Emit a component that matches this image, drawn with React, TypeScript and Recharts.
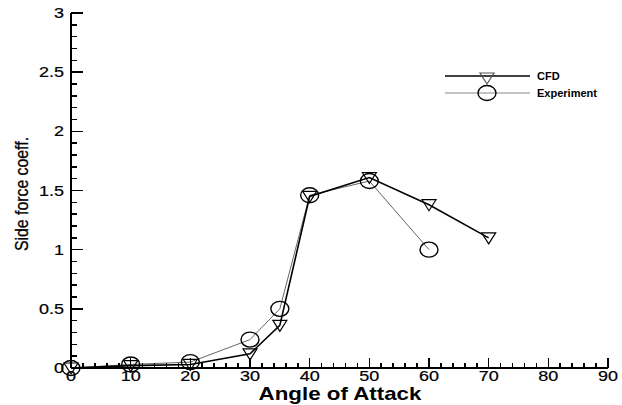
import { Line, LineChart, XAxis, YAxis } from 'recharts'

// angle of attack (deg) and side force coefficient
const cfdAngles = [0, 10, 20, 30, 35, 40, 50, 60, 70]
const cfdValues = [0, 0.02, 0.03, 0.12, 0.36, 1.45, 1.61, 1.38, 1.1]
const expAngles = [0, 10, 20, 30, 35, 40, 50, 60]
const expValues = [0, 0.03, 0.05, 0.24, 0.5, 1.46, 1.58, 1.0]

const xMajor = [0, 10, 20, 30, 40, 50, 60, 70, 80, 90]
const yMajor = [0, 0.5, 1, 1.5, 2, 2.5, 3]
const xTicks = Array.from({ length: 46 }, (_, i) => i * 2)
const yTicks = Array.from({ length: 31 }, (_, i) => i / 10)

const FONT = '"Liberation Sans", Arial, Helvetica, sans-serif'

const cfd = cfdAngles.map((x, i) => ({ x, y: cfdValues[i] }))
const exp = expAngles.map((x, i) => ({ x, y: expValues[i] }))

function XTick(props: any) {
  const { x, y, payload } = props
  const major = xMajor.includes(payload.value)
  return (
    <g>
      <path
        d={`M${x},${y}V${y - (major ? 10 : 5)}`}
        stroke="#000"
        strokeWidth={1.6}
        shapeRendering="crispEdges"
      />
      {major && (
        <text
          transform={`translate(${x},${y + 13}) scale(1.2,1)`}
          textAnchor="middle"
          fontSize={15}
          fontFamily={FONT}
          fill="#000"
          stroke="#000"
          strokeWidth={0.2}
        >
          {payload.value}
        </text>
      )}
    </g>
  )
}

function YTick(props: any) {
  const { x, y, payload } = props
  const major = yMajor.some((v) => Math.abs(v - payload.value) < 1e-6)
  return (
    <g>
      <path
        d={`M${x},${y}H${x + (major ? 12 : 6)}`}
        stroke="#000"
        strokeWidth={1.6}
        shapeRendering="crispEdges"
      />
      {major && (
        <text
          transform={`translate(${x - 7},${y + 5}) scale(1.2,1)`}
          textAnchor="end"
          fontSize={15}
          fontFamily={FONT}
          fill="#000"
          stroke="#000"
          strokeWidth={0.2}
        >
          {payload.value}
        </text>
      )}
    </g>
  )
}

function Tri({ cx, cy, stroke = '#555' }: any) {
  if (cx == null || cy == null) return null
  return (
    <path
      d={`M${cx - 7},${cy - 5} L${cx + 7},${cy - 5} L${cx},${cy + 6} Z`}
      fill="none"
      stroke={stroke}
      strokeWidth={1.2}
    />
  )
}

function Circ({ cx, cy }: any) {
  if (cx == null || cy == null) return null
  return <ellipse cx={cx} cy={cy} rx={9} ry={7.5} fill="none" stroke="#000" strokeWidth={1.4} />
}

export default function App() {
  return (
    <div style={{ position: 'absolute', left: 0, top: 0, width: 622, height: 405, background: '#fff' }}>
      <LineChart width={622} height={405} margin={{ top: 13, right: 14, left: 0, bottom: 0 }}>
        <XAxis
          type="number"
          dataKey="x"
          domain={[0, 90]}
          ticks={xTicks}
          interval={0}
          tickSize={0}
          tickMargin={0}
          axisLine={{ stroke: '#000', strokeWidth: 2 }}
          tick={<XTick />}
          height={37}
        />
        <YAxis
          type="number"
          dataKey="y"
          domain={[0, 3]}
          ticks={yTicks}
          interval={0}
          tickSize={0}
          tickMargin={0}
          axisLine={{ stroke: '#000', strokeWidth: 2 }}
          tick={<YTick />}
          width={71}
        />
        <Line data={exp} dataKey="y" stroke="#666" strokeWidth={1} dot={<Circ />} isAnimationActive={false} />
        <Line data={cfd} dataKey="y" stroke="#000" strokeWidth={1.6} dot={<Tri />} isAnimationActive={false} />
      </LineChart>
      <svg
        width={622}
        height={405}
        style={{ position: 'absolute', left: 0, top: 0, pointerEvents: 'none' }}
        fontFamily={FONT}
      >
        <text
          transform="translate(28,194) rotate(-90) scale(0.88,1)"
          textAnchor="middle"
          fontSize={18}
          fill="#000"
          stroke="#000"
          strokeWidth={0.3}
        >
          Side force coeff.
        </text>
        <text transform="translate(340,400) scale(1.24,1)" textAnchor="middle" fontSize={18} fontWeight="bold">
          Angle of Attack
        </text>
        <line x1={445} x2={530} y1={76} y2={76} stroke="#000" strokeWidth={1.5} />
        <Tri cx={487} cy={78} />
        <text x={537} y={80} fontSize={11} fontWeight="bold">
          CFD
        </text>
        <line x1={445} x2={530} y1={93} y2={93} stroke="#888" strokeWidth={1.2} />
        <Circ cx={487} cy={93} />
        <text x={537} y={97} fontSize={11} fontWeight="bold">
          Experiment
        </text>
      </svg>
    </div>
  )
}
